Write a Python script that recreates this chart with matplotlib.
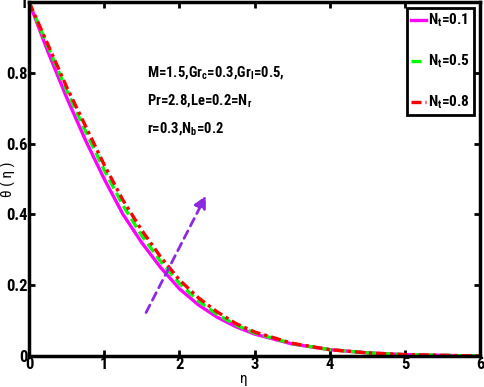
import matplotlib.pyplot as plt

# values
eta = [0.0, 0.25, 0.5, 0.75, 1.0, 1.25, 1.5, 1.75, 2.0, 2.25, 2.5, 2.75,
       3.0, 3.5, 4.0, 4.5, 5.0, 5.5, 6.0]
theta_nt01 = [1.0, 0.86, 0.73, 0.61, 0.50, 0.40, 0.32, 0.25, 0.19, 0.145, 0.11,
              0.083, 0.062, 0.034, 0.018, 0.009, 0.004, 0.002, 0.0]
theta_nt05 = [1.0, 0.875, 0.75, 0.635, 0.525, 0.425, 0.34, 0.267, 0.205, 0.156,
              0.118, 0.088, 0.065, 0.035, 0.018, 0.009, 0.004, 0.002, 0.0]
theta_nt08 = [1.0, 0.88, 0.76, 0.65, 0.54, 0.44, 0.355, 0.28, 0.215, 0.165,
              0.125, 0.092, 0.068, 0.036, 0.018, 0.009, 0.004, 0.002, 0.0]
labels = ['N$_t$=0.1', 'N$_t$=0.5', 'N$_t$=0.8']

fam = 'Roboto Condensed'
plt.rcParams['font.family'] = [fam, 'DejaVu Sans']
plt.rcParams['font.weight'] = 'bold'
plt.rcParams['mathtext.fontset'] = 'custom'
plt.rcParams['mathtext.rm'] = fam + ':bold'
plt.rcParams['mathtext.it'] = fam + ':bold'
plt.rcParams['mathtext.bf'] = fam + ':bold'
plt.rcParams['mathtext.default'] = 'bf'

fig = plt.figure(figsize=(4.84, 3.87), dpi=100)
ax = fig.add_axes([0.06, 0.08, 0.932, 0.915])

ax.plot(eta, theta_nt01, color='#FF00FF', lw=2.4, ls='-', label=labels[0])
ax.plot(eta, theta_nt05, color='#00FF00', lw=2.4, ls=(0, (3, 1.5)), label=labels[1])
ax.plot(eta, theta_nt08, color='#FF0000', lw=2.4, ls=(0, (3, 1.2, 1, 1.2)), label=labels[2])

# arrow showing the direction of increasing Nt
ax.annotate('', xy=(2.37, 0.46), xytext=(1.54, 0.116),
            arrowprops=dict(arrowstyle='-|>', color='#8A2BE2', lw=2, ls=(0, (3, 2)),
                            mutation_scale=18))

ax.text(1.57, 0.79, 'M=1.5,Gr$_c$=0.3,Gr$_l$=0.5,', fontsize=10.5)
ax.text(1.57, 0.71, 'Pr=2.8,Le=0.2=N$_r$', fontsize=10.5)
ax.text(1.57, 0.631, 'r=0.3,N$_b$=0.2', fontsize=10.5)

ax.set_xlim(0, 6)
ax.set_ylim(0, 1)
ax.set_xticks([0, 1, 2, 3, 4, 5, 6])
ax.set_yticks([0, 0.2, 0.4, 0.6, 0.8, 1])
ax.set_yticklabels(['0', '0.2', '0.4', '0.6', '0.8', '1'])
ax.tick_params(direction='in', length=4, width=2, top=True, right=True,
               labelsize=12, pad=1)
for s in ax.spines.values():
    s.set_linewidth(2.5)

ax.set_xlabel('η', fontsize=11)
ax.xaxis.set_label_coords(0.477, -0.045)
ax.set_ylabel('θ ( η )', fontsize=11, va='center')
ax.yaxis.set_label_coords(-0.046, 0.5)

leg = ax.legend(loc='upper right', fontsize=11, handlelength=1.0, handletextpad=0.15,
                borderpad=0.25, labelspacing=1.55, fancybox=False, framealpha=1,
                borderaxespad=0.4)
leg.get_frame().set_edgecolor('black')
leg.get_frame().set_linewidth(2)

fig.savefig('out.png', dpi=100)
